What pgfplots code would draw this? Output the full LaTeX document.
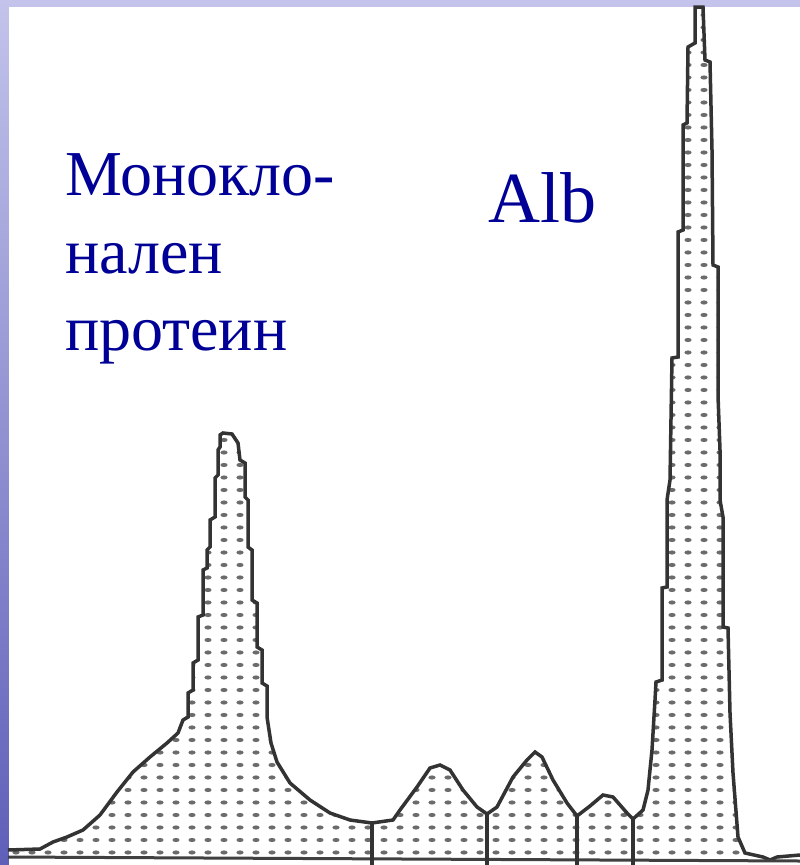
\documentclass[border=0pt]{standalone}
\usepackage{pgfplots}
\pgfplotsset{compat=1.18}
\usepackage{fontspec}
\setmainfont{Liberation Serif}
\usetikzlibrary{patterns.meta}
\definecolor{txtblue}{RGB}{0,0,150}
\tikzdeclarepattern{
  name=sdots,
  type=uncolored,
  bounding box={(-8pt,-6.25pt) and (8pt,6.25pt)},
  tile size={(16pt,12.5pt)},
  code={\fill (0pt,0pt) ellipse [x radius=3.6pt, y radius=2.1pt];}
}
\pgfplotstableread{
x y
8 850
40 849
53 842
67 837
83 830
100 815
117 792
133 772
150 757
167 743
178 733
183 720
188 717
188 693
193 690
193 663
198 660
198 617
203 615
203 570
207 568
207 550
210 547
210 520
215 517
215 478
218 475
218 450
220 447
220 435
223 433
232 434
236 440
238 443
240 460
245 463
245 497
248 500
248 547
252 550
252 600
257 603
257 647
262 650
262 683
267 686
267 717
271 743
277 762
290 783
310 800
330 813
350 820
372 823
393 820
400 810
417 787
430 768
440 765
450 770
463 790
477 807
487 814
497 807
513 777
527 760
535 752
542 757
553 780
567 803
577 816
590 806
603 795
613 797
627 813
633 819
643 810
648 790
652 750
655 700
656 682
662 680
662 588
667 587
667 500
670 480
672 358
678 357
678 232
683 230
683 125
687 123
688 47
695 43
695 7
703 7
705 60
710 62
712 150
713 265
718 267
718 395
720 450
720 500
723 517
723 627
728 628
730 713
733 773
738 837
745 853
763 857
770 860
777 857
800 855
}\trace
\begin{document}
\begin{tikzpicture}
\begin{axis}[
  scale only axis, width=800pt, height=865pt,
  xmin=0, xmax=800, ymin=0, ymax=865, y dir=reverse,
  hide axis, clip=true,
]
\fill[top color={rgb,255:red,195;green,195;blue,235}, bottom color={rgb,255:red,95;green,95;blue,185}] (axis cs:0,0) rectangle (axis cs:800,865);
\fill[white] (axis cs:9,7) rectangle (axis cs:800,865);
% filled densitometry trace
\addplot[draw=none, pattern=sdots, pattern color=black!58] table[x=x,y=y] {\trace} -- (axis cs:800,860) -- (axis cs:8,858) -- cycle;
% outline
\addplot[black!80, line width=3.5pt] table[x=x,y=y] {\trace};
% baseline
\addplot[black!75, line width=3pt] coordinates {(8,857) (800,861)};
% fraction dividers
\addplot[black!80, line width=3.5pt] coordinates {(372,865) (372,823)};
\addplot[black!80, line width=3.5pt] coordinates {(487,865) (487,814)};
\addplot[black!80, line width=3.5pt] coordinates {(577,865) (577,816)};
\addplot[black!80, line width=3.5pt] coordinates {(633,865) (633,819)};
% labels
\node[anchor=base west, inner sep=0pt, text=txtblue, font=\fontsize{64}{77}\selectfont] at (axis cs:65,195) {Монокло-};
\node[anchor=base west, inner sep=0pt, text=txtblue, font=\fontsize{64}{77}\selectfont] at (axis cs:65,273) {нален};
\node[anchor=base west, inner sep=0pt, text=txtblue, font=\fontsize{64}{77}\selectfont] at (axis cs:65,350) {протеин};
\node[anchor=base west, inner sep=0pt, text=txtblue, font=\fontsize{72}{80}\selectfont] at (axis cs:488,222) {Alb};
\end{axis}
\end{tikzpicture}
\end{document}
